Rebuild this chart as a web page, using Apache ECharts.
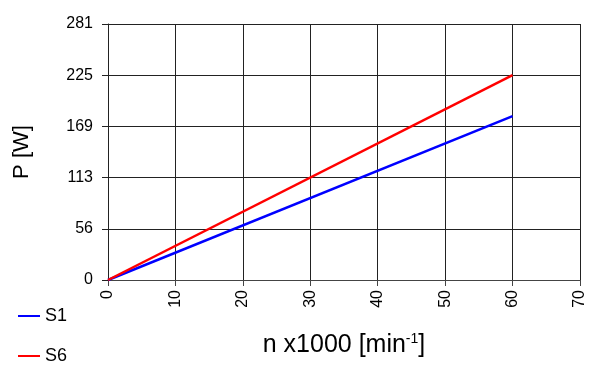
<!DOCTYPE html>
<html><head><meta charset="utf-8">
<script src="https://cdn.jsdelivr.net/npm/echarts@6/dist/echarts.min.js"></script>
<style>html,body{margin:0;padding:0;background:#fff}#c{width:600px;height:377px}</style>
</head><body><div id="c"></div>
<script>
var speeds = [0, 60];
var s1Values = [0, 180];
var s6Values = [0, 225];
var yTickLabels = ['0', '56', '113', '169', '225', '281'];
var xTickValues = [0, 10, 20, 30, 40, 50, 60, 70];

var chart = echarts.init(document.getElementById('c'), null, {renderer: 'canvas'});
var font = 'Liberation Sans, Arial, sans-serif';
chart.setOption({
  animation: false,
  backgroundColor: '#fff',
  grid: {left: 108, right: 20, top: 24, bottom: 97},
  legend: {
    orient: 'vertical', left: 13, top: 302, itemGap: 22,
    itemWidth: 22, itemHeight: 2, icon: 'rect',
    textStyle: {fontFamily: font, fontSize: 18, color: '#000'},
    data: ['S1', 'S6']
  },
  xAxis: {
    type: 'value', min: 0, max: 70, interval: 10,
    name: 'n x1000 [min{sup|-1}]', nameLocation: 'middle', nameGap: 52,
    nameTextStyle: {fontFamily: font, fontSize: 25, color: '#000',
      rich: {sup: {fontFamily: font, fontSize: 14, color: '#000', verticalAlign: 'top', padding: [0, 0, 12, 0]}}},
    axisLine: {show: true, lineStyle: {color: '#444', width: 1}},
    axisTick: {show: true, length: 6, lineStyle: {color: '#444'}},
    axisLabel: {rotate: 90, margin: 10, fontFamily: font, fontSize: 16, color: '#000',
      formatter: function (v) { return xTickValues.indexOf(v) >= 0 ? String(v) : ''; }},
    splitLine: {show: true, lineStyle: {color: '#222', width: 1}}
  },
  yAxis: {
    type: 'value', min: 0, max: 281.25, interval: 56.25,
    name: 'P [W]', nameLocation: 'middle', nameGap: 75,
    nameTextStyle: {fontFamily: font, fontSize: 22, color: '#000'},
    axisLine: {show: true, lineStyle: {color: '#222', width: 1}},
    axisTick: {show: true, length: 6, lineStyle: {color: '#222'}},
    axisLabel: {margin: 15, fontFamily: font, fontSize: 16, color: '#000',
      formatter: function (v) { return yTickLabels[Math.round(v / 56.25)]; }},
    splitLine: {show: true, lineStyle: {color: '#222', width: 1}}
  },
  series: [
    {name: 'S1', type: 'line', symbol: 'none', color: '#0000ff',
     lineStyle: {color: '#0000ff', width: 2.5},
     data: speeds.map(function (x, i) { return [x, s1Values[i]]; })},
    {name: 'S6', type: 'line', symbol: 'none', color: '#ff0000',
     lineStyle: {color: '#ff0000', width: 2.5},
     data: speeds.map(function (x, i) { return [x, s6Values[i]]; })}
  ]
});
</script></body></html>
